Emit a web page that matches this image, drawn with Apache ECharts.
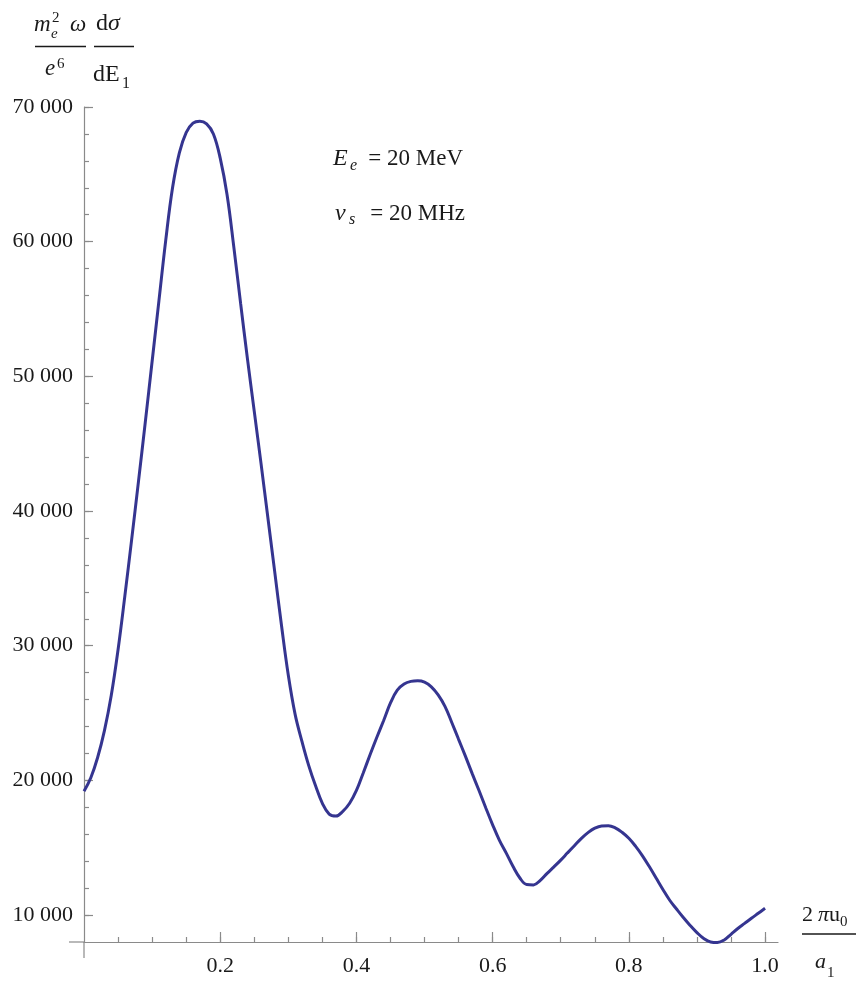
<!DOCTYPE html>
<html>
<head>
<meta charset="utf-8">
<script src="https://cdn.jsdelivr.net/npm/echarts@6/dist/echarts.min.js"></script>
<style>
  html, body { margin: 0; padding: 0; background: #fff; }
  #chart { width: 859px; height: 981px; }
</style>
</head>
<body>
<div id="chart"></div>
<script>
// Normalised photon energy 2πu0/a1 (sampled every 0.01)
const xValues = [
  0.00, 0.01, 0.02, 0.03, 0.04, 0.05, 0.06, 0.07, 0.08, 0.09,
  0.10, 0.11, 0.12, 0.13, 0.14, 0.15, 0.16, 0.17, 0.18, 0.19,
  0.20, 0.21, 0.22, 0.23, 0.24, 0.25, 0.26, 0.27, 0.28, 0.29,
  0.30, 0.31, 0.32, 0.33, 0.34, 0.35, 0.36, 0.37, 0.38, 0.39,
  0.40, 0.41, 0.42, 0.43, 0.44, 0.45, 0.46, 0.47, 0.48, 0.49,
  0.50, 0.51, 0.52, 0.53, 0.54, 0.55, 0.56, 0.57, 0.58, 0.59,
  0.60, 0.61, 0.62, 0.63, 0.64, 0.65, 0.66, 0.67, 0.68, 0.69,
  0.70, 0.71, 0.72, 0.73, 0.74, 0.75, 0.76, 0.77, 0.78, 0.79,
  0.80, 0.81, 0.82, 0.83, 0.84, 0.85, 0.86, 0.87, 0.88, 0.89,
  0.90, 0.91, 0.92, 0.93, 0.94, 0.95, 0.96, 0.97, 0.98, 0.99,
  1.00
];
// Cross section (m_e^2 ω / e^6) dσ/dE1
const crossSection = [
  19200, 20200, 21700, 23700, 26300, 29700, 33700, 37900, 42200, 46600,
  51100, 55600, 60100, 64000, 66600, 68100, 68800, 68950, 68750, 68000,
  66200, 63500, 59600, 55400, 51300, 47400, 43500, 39500, 35500, 31500,
  27800, 24900, 22900, 21100, 19600, 18300, 17500, 17350, 17700, 18300,
  19250, 20550, 21900, 23200, 24450, 25750, 26700, 27150, 27350, 27400,
  27300, 26950, 26350, 25500, 24300, 23050, 21800, 20500, 19250, 17950,
  16700, 15550, 14600, 13600, 12750, 12270, 12240, 12580, 13100, 13580,
  14080, 14620, 15150, 15680, 16120, 16450, 16620, 16640, 16480, 16150,
  15700, 15100, 14400, 13600, 12750, 11900, 11100, 10450, 9820, 9230,
  8700, 8260, 8000, 7960, 8150, 8570, 9000, 9380, 9760, 10130,
  10500
];

// Tick positions
const xLabelTicks = [0.2, 0.4, 0.6, 0.8, 1.0];
const xMinorTicks = [0.05, 0.1, 0.15, 0.2, 0.25, 0.3, 0.35, 0.4, 0.45, 0.5, 0.55, 0.6, 0.65, 0.7, 0.75, 0.8, 0.85, 0.9, 0.95, 1.0];
const yLabelTicks = [10000, 20000, 30000, 40000, 50000, 60000, 70000];
const yMinorTicks = [];
for (let v = 10000; v <= 70000; v += 2000) yMinorTicks.push(v);

const points = xValues.map((x, i) => [x, crossSection[i]]);

const serif = '"Liberation Serif", "DejaVu Serif", serif';
const axisGray = '#8a8a8a';
const textColor = '#1a1a1a';
const curveColor = '#353590';

function fmtThousands(v) {
  const s = String(Math.round(v));
  return s.replace(/\B(?=(\d{3})+(?!\d))/g, ' ');
}

const xMin = 0, xMax = 1.019, yMin = 8000, yMax = 70000;

function xAxisCfg(major) {
  return {
    type: 'value', min: xMin, max: xMax, position: 'bottom',
    axisLine: { show: major, onZero: false, lineStyle: { color: axisGray, width: 1.2 } },
    splitLine: { show: false },
    axisTick: {
      show: true, inside: true, length: major ? 10 : 5,
      customValues: major ? xLabelTicks : xMinorTicks,
      lineStyle: { color: axisGray, width: 1.2 }
    },
    axisLabel: {
      show: major, customValues: xLabelTicks, margin: 13,
      fontFamily: serif, fontSize: 22, color: textColor,
      formatter: v => v.toFixed(1)
    }
  };
}
function yAxisCfg(major) {
  return {
    type: 'value', min: yMin, max: yMax, position: 'left',
    axisLine: { show: major, onZero: false, lineStyle: { color: axisGray, width: 1.2 } },
    splitLine: { show: false },
    axisTick: {
      show: true, inside: true, length: major ? 9 : 5,
      customValues: major ? yLabelTicks : yMinorTicks,
      lineStyle: { color: axisGray, width: 1.2 }
    },
    axisLabel: {
      show: major, customValues: yLabelTicks, margin: 11,
      fontFamily: serif, fontSize: 22, color: textColor,
      formatter: fmtThousands
    }
  };
}

const chart = echarts.init(document.getElementById('chart'), null, { renderer: 'canvas' });

function txt(text, x, y, size, italic, align) {
  return {
    type: 'text',
    style: {
      text: text, x: x, y: y,
      font: (italic ? 'italic ' : '') + size + 'px ' + serif,
      fill: textColor, textAlign: align || 'left', textVerticalAlign: 'middle'
    },
    silent: true
  };
}
function hline(x1, x2, y) {
  return { type: 'line', shape: { x1: x1, y1: y, x2: x2, y2: y }, style: { stroke: textColor, lineWidth: 1.3 }, silent: true };
}

const labels = [
  // vertical axis caption: (m_e^2 ω / e^6) (dσ / dE1)
  txt('m', 34, 24.5, 23, true),
  txt('2', 52, 18, 15, false),
  txt('e', 51, 34, 15, true),
  txt('ω', 70, 24.5, 23, true),
  hline(35, 86, 46.5),
  txt('e', 45, 68.5, 23, true),
  txt('6', 57, 64, 15, false),
  txt('d', 96, 24, 24, false),
  txt('σ', 108, 24, 24, true),
  hline(94, 134, 46.5),
  txt('dE', 93, 75, 24, false),
  txt('1', 122, 84, 16, false),
  // horizontal axis caption: 2πu0 / a1
  txt('2', 802, 915.5, 22, false),
  txt('π', 818, 915.5, 22, true),
  txt('u', 829, 915.5, 22, false),
  txt('0', 840, 922, 15, false),
  hline(802, 856, 934),
  txt('a', 815, 962.5, 22, true),
  txt('1', 827, 973, 15, false),
  // beam parameters
  txt('E', 333, 159, 24, true),
  txt('e', 350, 166, 16, true),
  txt('= 20 MeV', 463, 159, 23, false, 'right'),
  txt('ν', 335, 213.5, 24, true),
  txt('s', 349, 220, 16, true),
  txt('= 20 MHz', 465, 213.5, 23, false, 'right')
];

chart.setOption({
  animation: false,
  backgroundColor: '#ffffff',
  grid: { left: 84, right: 81, top: 107, bottom: 39, containLabel: false },
  xAxis: [xAxisCfg(true), xAxisCfg(false)],
  yAxis: [yAxisCfg(true), yAxisCfg(false)],
  series: [{
    type: 'line',
    data: points,
    xAxisIndex: 0, yAxisIndex: 0,
    smooth: 0.4,
    showSymbol: false,
    clip: false,
    lineStyle: { color: curveColor, width: 3 }
  }],
  graphic: labels
});

// Both axes run a little past their crossing point
const origin = chart.convertToPixel({ xAxisIndex: 0, yAxisIndex: 0 }, [xMin, yMin]);
const axisStub = (x1, y1, x2, y2) => ({
  type: 'line', shape: { x1: x1, y1: y1, x2: x2, y2: y2 },
  style: { stroke: axisGray, lineWidth: 1.2 }, silent: true
});
chart.setOption({
  graphic: labels.concat([
    axisStub(origin[0], origin[1], origin[0], origin[1] + 16),
    axisStub(origin[0] - 15, origin[1], origin[0], origin[1])
  ])
});
</script>
</body>
</html>
